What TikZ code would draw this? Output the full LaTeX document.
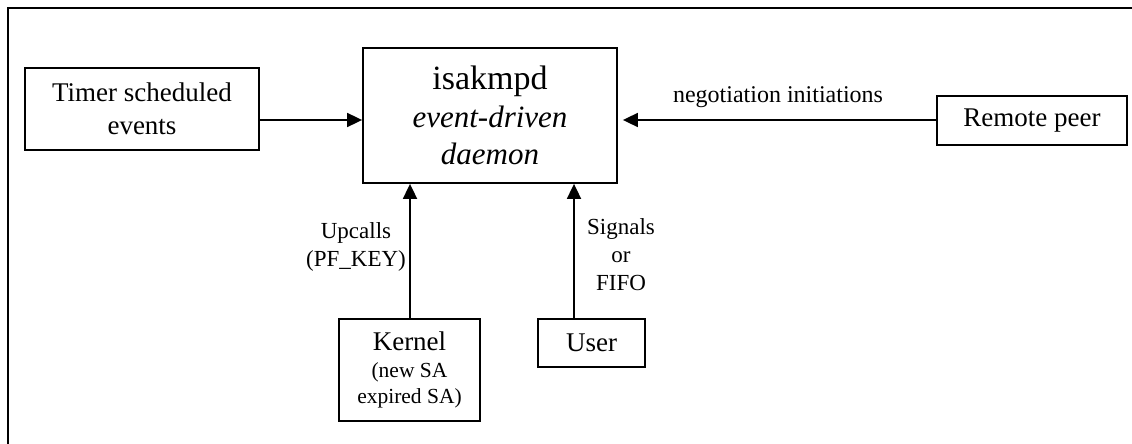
\documentclass[tikz,border=0pt]{standalone}
\usepackage{fontspec}
\setmainfont{Liberation Serif}
\usetikzlibrary{arrows.meta}
\begin{document}
\begin{tikzpicture}[x=1pt,y=-1pt,
  box/.style={draw,line width=1.8pt,inner sep=0pt,align=center},
  arr/.style={line width=1.8pt,-{Triangle[length=15pt,width=14pt]}},
  big/.style={font=\fontsize{27}{33}\selectfont},
  small/.style={font=\fontsize{23}{28}\selectfont,align=center}]
\useasboundingbox (0,0) rectangle (1132,444);
% frame (cropped scan: top and left sides visible)
\draw[line width=2pt] (1132,8) -- (8,8) -- (8,444);
% nodes
\node[box,big,minimum width=234pt,minimum height=82pt] (timer) at (142,109) {Timer scheduled\\events};
\node[box,minimum width=254pt,minimum height=135pt,font=\fontsize{31}{37.5}\selectfont] (isak) at (490,115.5)
  {{\fontsize{34}{38}\selectfont isakmpd}\\
   \textit{event-driven}\\
   \textit{daemon}};
\node[box,big,minimum width=190pt,minimum height=49pt] (remote) at (1032,120.5) {Remote peer};
\node[box,minimum width=141pt,minimum height=102pt,font=\fontsize{21.5}{26.5}\selectfont] (kernel) at (409.5,370)
  {{\fontsize{27}{30}\selectfont Kernel}\\
   (new SA\\
   expired SA)};
\node[box,big,minimum width=107pt,minimum height=48pt] (user) at (591.5,343) {User};
% labels
\node[small,font=\fontsize{24}{28}\selectfont] (neg) at (778,97) {negotiation initiations};
\node[small] (upc) at (356,247) {Upcalls\\(PF\_KEY)};
\node[small] (sig) at (621,255) {Signals\\or\\FIFO};
% connectors
\coordinate (row) at (0,120);
\coordinate (kx) at (410,0);
\coordinate (ux) at (574,0);
\draw[arr] (timer.east |- row) -- (isak.west |- row);
\draw[arr,shorten >=5pt] (remote.west |- row) -- (isak.east |- row);
\draw[arr] (kx |- kernel.north) -- (kx |- isak.south);
\draw[arr] (ux |- user.north) -- (ux |- isak.south);
\end{tikzpicture}
\end{document}
